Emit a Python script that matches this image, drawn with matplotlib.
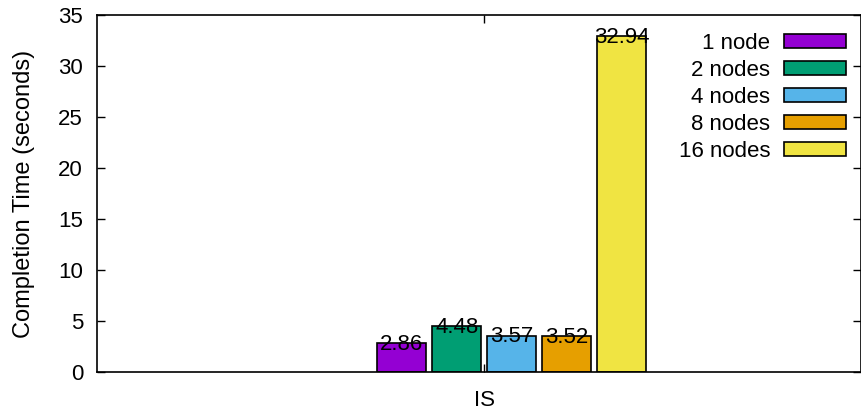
import matplotlib.pyplot as plt
from matplotlib.patches import Patch

plt.rcParams["font.family"] = ["Liberation Sans", "DejaVu Sans"]

categories = ["IS"]
series = ["1 node", "2 nodes", "4 nodes", "8 nodes", "16 nodes"]
times = [2.86, 4.48, 3.57, 3.52, 32.94]
colors = ["#9400D3", "#009E73", "#56B4E9", "#E69F00", "#F0E442"]

FS = 16


def main():
    fig = plt.figure(figsize=(8.62, 4.16), dpi=100)
    ax = fig.add_axes([97 / 862, 44 / 416, 764 / 862, 357 / 416])

    offsets = [-1.5, -0.5, 0.5, 1.5, 2.5]
    for off, val, col in zip(offsets, times, colors):
        ax.bar(off, val, width=0.9, color=col, edgecolor="black", linewidth=1.2)
        ax.annotate(f"{val:.2f}", (off, val), xytext=(0, -1), textcoords="offset points",
                    ha="center", va="center", fontsize=FS, color="black")

    ax.set_xlim(-7.04, 6.85)
    ax.set_ylim(0, 35)
    ax.set_yticks(range(0, 36, 5))
    ax.set_xticks([0])
    ax.set_xticklabels(categories)
    ax.tick_params(axis="both", direction="in", labelsize=FS, length=6, width=1,
                   top=True, right=True, color="black")
    ax.tick_params(axis="y", pad=10)
    ax.tick_params(axis="x", pad=13)
    for s in ax.spines.values():
        s.set_linewidth(1.2)
    ax.set_ylabel("Completion Time (seconds)", fontsize=17, labelpad=17)

    handles = [Patch(facecolor=c, edgecolor="black", linewidth=1.2) for c in colors]
    ax.legend(handles, series, loc="upper right", markerfirst=False, frameon=False,
              fontsize=FS, handlelength=2.8, handleheight=0.58, handletextpad=0.6,
              labelspacing=0.27, borderpad=0, borderaxespad=0,
              bbox_to_anchor=(846 / 862, 1 - 33 / 416), bbox_transform=fig.transFigure)

    fig.savefig("out.png", dpi=100)
    plt.close(fig)


if __name__ == "__main__":
    main()
